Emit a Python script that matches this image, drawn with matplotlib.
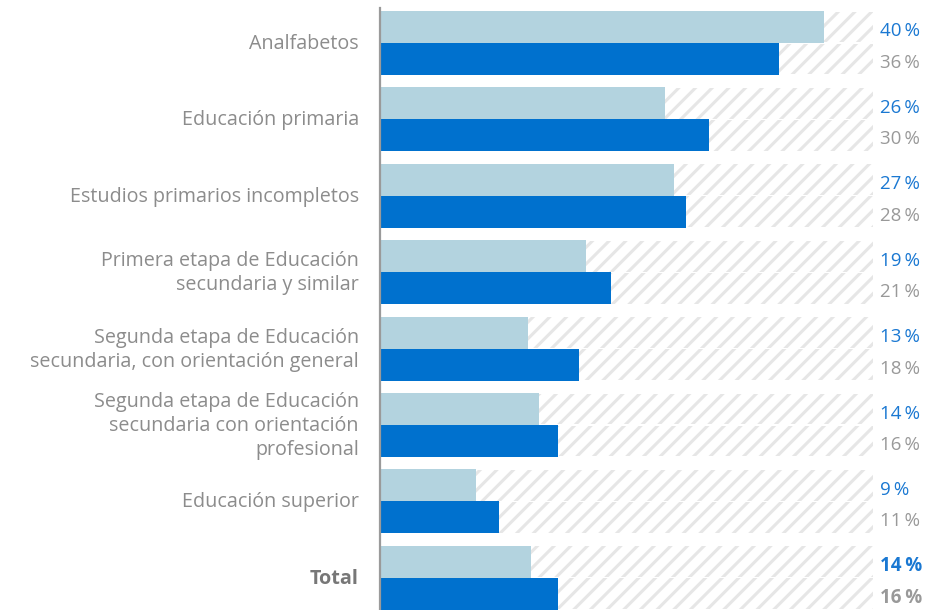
import numpy as np
import matplotlib.pyplot as plt
from matplotlib.lines import Line2D

plt.rcParams['font.family'] = ['Open Sans', 'DejaVu Sans']
plt.rcParams['hatch.linewidth'] = 2.2

categories = ['Analfabetos',
              'Educación primaria',
              'Estudios primarios incompletos',
              'Primera etapa de Educación\nsecundaria y similar',
              'Segunda etapa de Educación\nsecundaria, con orientación general',
              'Segunda etapa de Educación\nsecundaria con orientación\nprofesional',
              'Educación superior',
              'Total']
serie_clara = [40.3, 25.8, 26.6, 18.6, 13.4, 14.4, 8.6, 13.6]
serie_oscura = [36.2, 29.8, 27.7, 20.9, 18.0, 16.1, 10.7, 16.1]
fondo = 44.7

c_claro = '#b3d3df'
c_oscuro = '#0071ce'
c_azul_txt = '#1a78d2'
c_gris_txt = '#999999'
c_cat = '#8c8c8c'

W, H = 929, 610
fig = plt.figure(figsize=(W / 100, H / 100), dpi=100)
ax = fig.add_axes([381 / W, 0, 1 - 381 / W, 1])

pitch = 76.4
h = 32 / pitch
gap = 1.2 / pitch
y = np.arange(len(categories))

ax.barh(y - h / 2, fondo, height=h - gap, color='white', edgecolor='#e6e6e6',
        hatch='//', linewidth=0, zorder=1)
ax.barh(y + h / 2, fondo, height=h - gap, color='white', edgecolor='#e6e6e6',
        hatch='//', linewidth=0, zorder=1)
ax.barh(y - h / 2, serie_clara, height=h, color=c_claro, linewidth=0, zorder=2)
ax.barh(y + h / 2, serie_oscura, height=h, color=c_oscuro, linewidth=0, zorder=2)

px = 11.0  # pixels per unit
ax.set_xlim(0, (W - 381) / px)
ax.set_ylim(len(categories) - 1 + 32.2 / pitch, -43 / pitch)

for i, cat in enumerate(categories):
    total = cat == 'Total'
    ax.text(-22 / px, i + 1 / pitch, cat, ha='right', va='center',
            fontsize=14.2, color='#777777' if total else c_cat,
            fontweight='bold' if total else 'normal', linespacing=1.26)
    ax.text(45.4, i - h / 2 + 4.5 / pitch, f'{serie_clara[i]:.0f}\u2009%', ha='left',
            va='center', fontsize=13.5, color=c_azul_txt,
            fontweight='bold' if total else 'medium')
    ax.text(45.4, i + h / 2 + 4 / pitch, f'{serie_oscura[i]:.0f}\u2009%', ha='left',
            va='center', fontsize=13.5, color=c_gris_txt,
            fontweight='bold' if total else 'normal')

ax.axis('off')
fig.add_artist(Line2D([379.8 / W, 379.8 / W], [0, 1 - 8 / H], color='#9a9a9a',
                      linewidth=1.6, transform=fig.transFigure))

fig.savefig('out.png', dpi=100)
